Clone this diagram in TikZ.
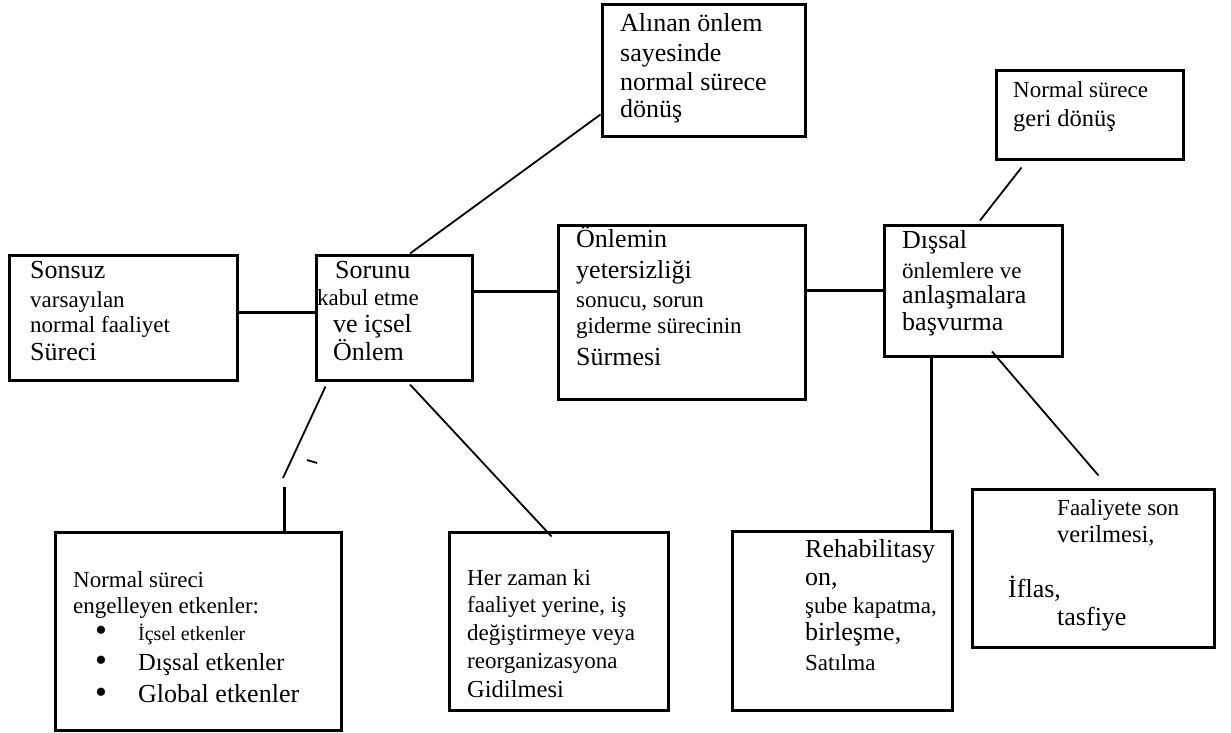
\documentclass[tikz,border=0pt]{standalone}
\usepackage{fontspec}
\setmainfont{Liberation Serif}
\usepackage{tikz}
\usetikzlibrary{calc}

\newcommand{\buyuk}{\fontsize{26}{27}\selectfont\lineskiplimit=-100pt}
\newcommand{\orta}{\fontsize{24.5}{27}\selectfont}
\newcommand{\kucuk}{\fontsize{23}{27}\selectfont}
\newcommand{\ufak}{\fontsize{20}{27}\selectfont}
\newcommand{\madde}{\hspace*{22pt}\makebox[43pt][l]{\fontsize{34}{27}\selectfont\raisebox{-1pt}{\textbullet}}}

\tikzset{
  kutu/.style={draw,line width=3pt,inner sep=0pt},
  yazi/.style={anchor=base west,align=left,inner sep=0pt,font=\buyuk},
  kalin/.style={line width=3pt},
  ince/.style={line width=1.8pt}
}

\begin{document}
\begin{tikzpicture}[x=1pt,y=-1pt]
  \useasboundingbox (0,0) rectangle (1231,733);
  % kutular
  \node[kutu,minimum width=228pt,minimum height=125pt] (sonsuz) at (123,317.5) {};
  \node[kutu,minimum width=156pt,minimum height=125pt] (sorunu) at (394,317.5) {};
  \node[kutu,minimum width=247pt,minimum height=174pt] (onlemin) at (681.5,312) {};
  \node[kutu,minimum width=178pt,minimum height=131pt] (dissal) at (973,290.5) {};
  \node[kutu,minimum width=187pt,minimum height=88pt] (geri) at (1089.5,115) {};
  \node[kutu,minimum width=203pt,minimum height=132pt] (alinan) at (703.5,71) {};
  \node[kutu,minimum width=286pt,minimum height=198pt] (engel) at (198,631) {};
  \node[kutu,minimum width=219pt,minimum height=178pt] (her) at (558.5,621) {};
  \node[kutu,minimum width=220pt,minimum height=179pt] (rehab) at (842,620.5) {};
  \node[kutu,minimum width=242pt,minimum height=158pt] (faal) at (1093,568) {};

  % yazilar (son satirin taban cizgisinde)
  \node[yazi] (t-sonsuz) at (30,360) {Sonsuz\\[2pt] {\kucuk varsayılan}\\[-2pt]
    {\kucuk normal faaliyet}\\[1pt] Süreci};
  \node[yazi] (t-sorunu) at (317,360) {\hspace*{18pt}Sorunu\\ {\kucuk kabul etme}\\
    \hspace*{16pt}ve içsel\\[1pt] \hspace*{16pt}Önlem};
  \node[yazi] (t-onlemin) at (576,365) {Önlemin\\[4pt] yetersizliği\\[2pt]
    {\kucuk sonucu, sorun}\\[-1pt] {\kucuk giderme sürecinin}\\[5pt] Sürmesi};
  \node[yazi] (t-dissal) at (902,330) {Dışsal\\[3pt] {\kucuk önlemlere ve}\\[-2pt]
    anlaşmalara\\ başvurma};
  \node[yazi] (t-geri) at (1013,127) {{\kucuk Normal sürece}\\[2pt] {\orta geri dönüş}};
  \node[yazi] (t-alinan) at (620,118) {Alınan önlem\\[3pt] sayesinde\\[1pt]
    normal sürece\\[1pt] dönüş};
  \node[yazi] (t-engel) at (73,702) {{\kucuk Normal süreci}\\[-1pt]
    {\kucuk engelleyen etkenler:}\\ \madde{\ufak İçsel etkenler}\\[3pt]
    \madde{\orta Dışsal etkenler}\\[5pt] \madde{Global etkenler}};
  \node[yazi] (t-her) at (467,697) {{\kucuk Her zaman ki}\\ {\kucuk faaliyet yerine, iş}\\[1pt]
    {\kucuk değiştirmeye veya}\\[1pt] {\kucuk reorganizasyona}\\[2pt] {\orta Gidilmesi}};
  \node[yazi] (t-rehab) at (805,670) {Rehabilitasy\\[1pt] on,\\[1pt]
    {\kucuk şube kapatma,}\\ birleşme,\\[3pt] {\kucuk Satılma}};
  \node[yazi] (t-faal) at (1008,625) {\hspace*{49pt}{\kucuk Faaliyete son}\\
    \hspace*{49pt}{\orta verilmesi,}\\[28pt] İflas,\\[1pt] \hspace*{49pt}tasfiye};

  % baglantilar
  \draw[kalin] ([yshift=5.5pt]sonsuz.east) -- ([yshift=5.5pt]sorunu.west);
  \draw[kalin] ([yshift=26.5pt]sorunu.east) -- ([yshift=26.5pt]sorunu.east -| onlemin.west);
  \draw[kalin] (onlemin.east |- dissal.west) -- (dissal.west);
  \draw[ince] ([xshift=16pt]sorunu.north) -- ([yshift=24pt]alinan.south west);
  \draw[ince] ([xshift=7pt,yshift=3pt]dissal.north) -- ([xshift=27pt,yshift=-7pt]geri.south west);
  \coordinate (kirik) at (283,478);
  \coordinate (dik) at (284,487);
  \draw[ince] ([xshift=11pt,yshift=-5pt]sorunu.south west) -- (kirik);
  \draw[ince] (307,460) -- (317,463);
  \draw[kalin] (dik) -- (dik |- engel.north);
  \draw[ince] ([xshift=16pt,yshift=-3pt]sorunu.south) -- ([xshift=104pt,yshift=-6pt]her.north west);
  \draw[kalin] ([xshift=-42pt]dissal.south) -- ([xshift=-42pt]dissal.south |- rehab.north);
  \draw[ince] ([xshift=19pt,yshift=6pt]dissal.south) -- ([xshift=128pt,yshift=12pt]faal.north west);
\end{tikzpicture}
\end{document}
